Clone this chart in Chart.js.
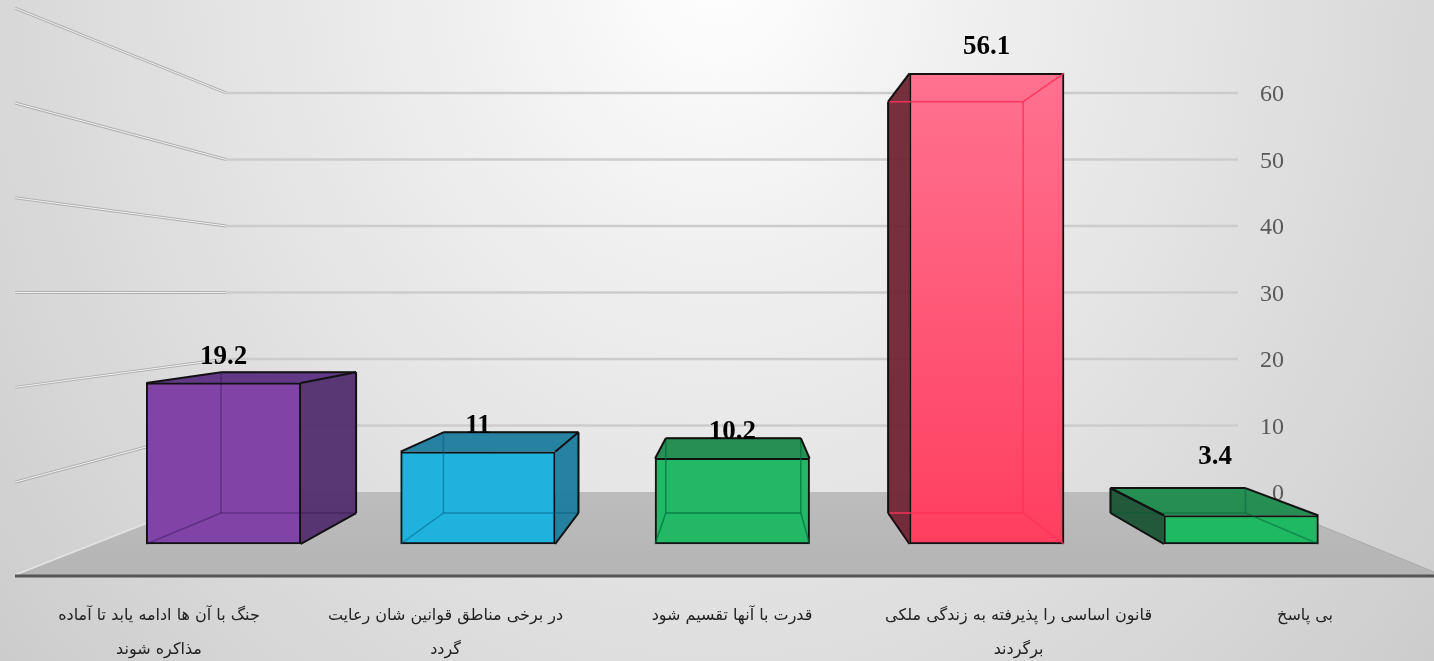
<!DOCTYPE html>
<html>
<head>
<meta charset="utf-8">
<title>3D bar chart</title>
<script src="https://cdn.jsdelivr.net/npm/chart.js"></script>
<style>
html, body { margin: 0; height: 100%; overflow: hidden; }
body { background: radial-gradient(ellipse 64% 160% at 50% -5%, #ffffff 0%, #f1f1f1 25%, #e3e3e3 55%, #d2d2d2 90%, #c8c8c8 110%); }
.canvas_div { width: 1434px; height: 661px; }
</style>
</head>
<body>
<div class="canvas_div">
    <canvas id="myChart"></canvas>
</div>
<script>
const categories = [
    ['جنگ با آن ها ادامه یابد تا آماده', 'مذاکره شوند'],
    ['در برخی مناطق قوانین شان رعایت', 'گردد'],
    'قدرت با آنها تقسیم شود',
    ['قانون اساسی را پذیرفته به زندگی ملکی', 'برگردند'],
    'بی پاسخ'
];
const values = [19.2, 11, 10.2, 56.1, 3.4];
const yTicks = [0, 10, 20, 30, 40, 50, 60];

const frontColors = ['#7f44a6', '#1fb2dd', '#22b866', '#ff5576', '#1fb863'];
const topColors = ['#5c3282', '#1f7d9d', '#1f8a4e', '#6f2735', '#1f8a4e'];
const sideColors = ['#533070', '#1f7d9d', '#1f8a4e', '#6f2735', '#1c5535'];
const edgeColors = ['rgba(40,10,70,0.35)', 'rgba(0,90,130,0.5)', 'rgba(0,110,60,0.7)', 'rgba(255,50,90,0.9)', 'rgba(0,90,50,0.45)'];

// perspective of the box: back face = front face pulled toward the vanishing point
const VP_X = 740, VP_Y = 298, DEPTH = 0.874;
const WALL_LEFT = 15, BACK_LEFT = 226, BACK_RIGHT = 1238, FLOOR_RIGHT = 1434;

function toBack(x, y) {
    return [VP_X + (x - VP_X) * DEPTH, VP_Y + (y - VP_Y) * DEPTH];
}

function corners(bar) {
    const l = bar.x - bar.width / 2, r = bar.x + bar.width / 2, t = bar.y, b = bar.base;
    return {
        tl: [l, t], tr: [r, t], fl: [l, b], fr: [r, b],
        bl: toBack(l, t), br: toBack(r, t), dl: toBack(l, b), dr: toBack(r, b)
    };
}

function poly(ctx, pts, fill) {
    ctx.beginPath();
    pts.forEach(function (p, i) { i ? ctx.lineTo(p[0], p[1]) : ctx.moveTo(p[0], p[1]); });
    ctx.closePath();
    ctx.fillStyle = fill;
    ctx.fill();
}

function line(ctx, a, b, color, width) {
    ctx.beginPath();
    ctx.moveTo(a[0], a[1]);
    ctx.lineTo(b[0], b[1]);
    ctx.strokeStyle = color;
    ctx.lineWidth = width;
    ctx.stroke();
}

// tick padding would otherwise be added as margin around the chart area
function noMargins(scale) {
    scale.paddingLeft = scale.paddingRight = scale.paddingTop = scale.paddingBottom = 0;
}

const room = {
    id: 'room',
    beforeDatasetsDraw(chart) {
        const ctx = chart.ctx, back = chart.scales.yBack, wall = chart.scales.yWall;
        const y0 = back.getPixelForValue(0), f0 = wall.getPixelForValue(0) - 2;
        ctx.save();
        // floor
        const g = ctx.createLinearGradient(0, y0, 0, f0);
        g.addColorStop(0, '#bcbcbc');
        g.addColorStop(1, '#b5b5b5');
        poly(ctx, [[BACK_LEFT, y0], [BACK_RIGHT, y0], [FLOOR_RIGHT, f0 - 3], [FLOOR_RIGHT, f0], [WALL_LEFT, f0]], g);
        line(ctx, [BACK_LEFT, y0], [WALL_LEFT, f0], '#e4e4e4', 1.5);
        line(ctx, [BACK_RIGHT, y0], [FLOOR_RIGHT, f0 - 3], '#a8a8a8', 1);
        line(ctx, [WALL_LEFT, f0 + 1], [FLOOR_RIGHT, f0 + 1], '#555555', 3);
        // back wall and left wall grid
        yTicks.forEach(function (v) {
            const yb = back.getPixelForValue(v), yw = wall.getPixelForValue(v);
            if (v > 0) {
                line(ctx, [BACK_LEFT, yb], [BACK_RIGHT, yb], '#cccccc', 2.5);
                line(ctx, [WALL_LEFT, yw], [BACK_LEFT, yb], '#b0b0b0', 3);
                line(ctx, [WALL_LEFT, yw], [BACK_LEFT, yb], '#f2f2f2', 1);
            }
        });
        // faces of the boxes that stick out from behind the front face
        chart.getDatasetMeta(0).data.forEach(function (bar, i) {
            const c = corners(bar);
            ctx.globalAlpha = 0.96;
            if (c.bl[1] < c.tl[1]) poly(ctx, [c.tl, c.bl, c.br, c.tr], topColors[i]);
            if (c.bl[0] < c.tl[0]) poly(ctx, [c.tl, c.bl, c.dl, c.fl], sideColors[i]);
            if (c.br[0] > c.tr[0]) poly(ctx, [c.tr, c.br, c.dr, c.fr], sideColors[i]);
            ctx.globalAlpha = 1;
        });
        ctx.restore();
    },
    afterDatasetsDraw(chart) {
        const ctx = chart.ctx, dark = '#111';
        ctx.save();
        chart.getDatasetMeta(0).data.forEach(function (bar, i) {
            const c = corners(bar), e = edgeColors[i];
            // inner edges, seen through the translucent box
            line(ctx, c.bl, c.br, e, 1.5);
            line(ctx, c.br, c.dr, e, 1.5);
            line(ctx, c.dr, c.dl, e, 1.5);
            line(ctx, c.dl, c.bl, e, 1.5);
            line(ctx, c.fl, c.dl, e, 1.5);
            line(ctx, c.fr, c.dr, e, 1.5);
            if (c.bl[1] > c.tl[1]) {
                line(ctx, c.tr, c.br, e, 1.5);
            }
            // silhouette
            if (c.bl[1] < c.tl[1]) {
                line(ctx, c.tl, c.bl, dark, 2);
                line(ctx, c.bl, c.br, dark, 2);
                line(ctx, c.br, c.tr, dark, 2);
            }
            if (c.bl[0] < c.tl[0]) {
                line(ctx, c.tl, c.bl, dark, 2);
                line(ctx, c.bl, c.dl, dark, 2);
                line(ctx, c.dl, c.fl, dark, 2);
            }
            if (c.br[0] > c.tr[0]) {
                line(ctx, c.br, c.dr, dark, 2);
                line(ctx, c.dr, c.fr, dark, 2);
            }
        });
        ctx.font = 'bold 27px "Liberation Serif"';
        ctx.fillStyle = '#000';
        ctx.textAlign = 'center';
        ctx.textBaseline = 'middle';
        chart.getDatasetMeta(0).data.forEach(function (bar, i) {
            // the low box lies on the floor, its label stays above the back edge
            const low = values[i] < 5;
            ctx.fillText(values[i], bar.x - (low ? 26 : 0), bar.y - (low ? 58 : 26));
        });
        ctx.restore();
    }
};

function frontFill(context) {
    const i = context.dataIndex, y = context.chart.scales.y;
    if (i !== 3 || !y) return frontColors[i];
    const g = context.chart.ctx.createLinearGradient(0, y.getPixelForValue(values[3]), 0, y.getPixelForValue(0));
    g.addColorStop(0, '#ff7290');
    g.addColorStop(1, '#ff3e5f');
    return g;
}

new Chart(document.getElementById('myChart'), {
    type: 'bar',
    data: {
        datasets: [{
            data: values.map(function (v, i) { return { x: i, y: v }; }),
            xAxisID: 'xBar',
            yAxisID: 'y',
            barThickness: 154.5,
            backgroundColor: frontFill,
            borderColor: '#111',
            borderWidth: 2,
            borderSkipped: false,
            clip: false
        }]
    },
    options: {
        responsive: true,
        maintainAspectRatio: false,
        animation: false,
        layout: { padding: 0 },
        plugins: { legend: { display: false }, tooltip: { enabled: false } },
        scales: {
            // category labels sit on the wider front edge of the floor
            x: {
                type: 'linear',
                position: 'bottom',
                offset: false,
                min: -0.555,
                max: 4.45,
                grid: { display: false },
                border: { display: false },
                afterBuildTicks(scale) { scale.ticks = categories.map(function (c, i) { return { value: i }; }); },
                afterFit(scale) { scale.height = 117; noMargins(scale); },
                ticks: {
                    autoSkip: false,
                    maxRotation: 0,
                    padding: 47,
                    color: '#222',
                    font: { family: '"DejaVu Sans"', size: 16, lineHeight: 2.12 },
                    callback(value) { return categories[value]; }
                }
            },
            xBar: { type: 'linear', axis: 'x', display: false, offset: false, min: -0.8785, max: 4.758 },
            y: { type: 'linear', display: false, min: 0, max: 64.84 },
            // back wall, this one carries the visible ticks
            yBack: {
                type: 'linear',
                axis: 'y',
                position: 'right',
                min: -7.82,
                max: 73.98,
                z: 1,
                grid: { display: false, drawTicks: false },
                border: { display: false },
                afterBuildTicks(scale) { scale.ticks = yTicks.map(function (v) { return { value: v }; }); },
                afterFit(scale) { scale.width = 0; noMargins(scale); },
                ticks: {
                    mirror: true,
                    padding: -150,
                    labelOffset: 2,
                    color: '#595959',
                    font: { family: '"Liberation Serif"', size: 24 }
                }
            },
            // front edge of the left wall
            yWall: { type: 'linear', axis: 'y', display: false, min: 3.48, max: 60.86 }
        }
    },
    plugins: [room]
});
</script>
</body>
</html>
